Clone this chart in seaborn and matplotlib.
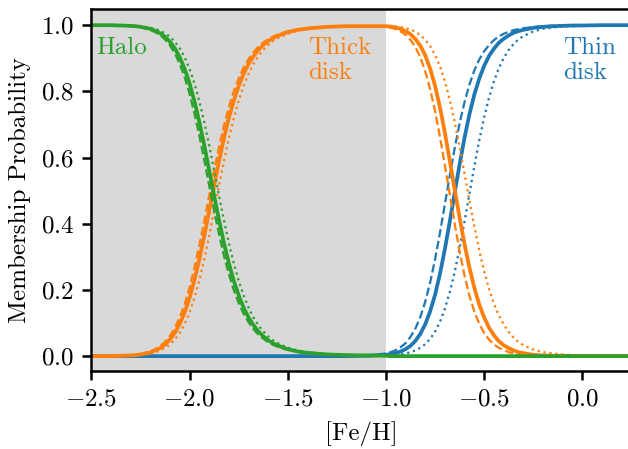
import numpy as np
import pandas as pd
import seaborn as sns
import matplotlib.pyplot as plt

# metallicity grid the membership curves were read at
feh = [-2.5, -2.45, -2.4, -2.35,
       -2.3, -2.275, -2.25, -2.225, -2.2, -2.175, -2.15, -2.125, -2.1, -2.075, -2.05, -2.025,
       -2.0, -1.975, -1.95, -1.925, -1.9, -1.875, -1.85, -1.825, -1.8, -1.775, -1.75, -1.725,
       -1.7, -1.675, -1.65, -1.625, -1.6, -1.575, -1.55, -1.525, -1.5,
       -1.45, -1.4, -1.3, -1.2, -1.1,
       -1.0, -0.975, -0.95, -0.925, -0.9, -0.875, -0.85, -0.825, -0.8, -0.775, -0.75, -0.725,
       -0.7, -0.675, -0.65, -0.625, -0.6, -0.575, -0.55, -0.525, -0.5, -0.475, -0.45, -0.425,
       -0.4, -0.375, -0.35, -0.325, -0.3,
       -0.25, -0.2, -0.15, -0.1, -0.05, 0.0, 0.1, 0.2, 0.3]

halo_solid = [1.000, 1.000, 1.000, 0.999,
              0.998, 0.997, 0.995, 0.992, 0.989, 0.983, 0.976, 0.965, 0.950, 0.930, 0.903, 0.868,
              0.824, 0.770, 0.707, 0.637, 0.561, 0.485, 0.411, 0.342, 0.281, 0.228, 0.184, 0.147,
              0.117, 0.094, 0.075, 0.060, 0.048, 0.039, 0.032, 0.026, 0.021,
              0.014, 0.010, 0.005, 0.003, 0.002,
              0.001, 0.0, 0.0, 0.0, 0.0, 0.0, 0.0, 0.0, 0.0, 0.0, 0.0, 0.0,
              0.0, 0.0, 0.0, 0.0, 0.0, 0.0, 0.0, 0.0, 0.0, 0.0, 0.0, 0.0,
              0.0, 0.0, 0.0, 0.0, 0.0,
              0.0, 0.0, 0.0, 0.0, 0.0, 0.0, 0.0, 0.0, 0.0]

halo_dashed = [1.000, 1.000, 1.000, 0.999,
               0.997, 0.996, 0.994, 0.990, 0.986, 0.979, 0.970, 0.957, 0.939, 0.915, 0.883, 0.843,
               0.793, 0.733, 0.666, 0.592, 0.515, 0.440, 0.369, 0.304, 0.248, 0.200, 0.161, 0.128,
               0.103, 0.082, 0.065, 0.053, 0.042, 0.034, 0.028, 0.023, 0.019,
               0.013, 0.009, 0.005, 0.003, 0.002,
               0.001, 0.0, 0.0, 0.0, 0.0, 0.0, 0.0, 0.0, 0.0, 0.0, 0.0, 0.0,
               0.0, 0.0, 0.0, 0.0, 0.0, 0.0, 0.0, 0.0, 0.0, 0.0, 0.0, 0.0,
               0.0, 0.0, 0.0, 0.0, 0.0,
               0.0, 0.0, 0.0, 0.0, 0.0, 0.0, 0.0, 0.0, 0.0]

halo_dotted = [1.000, 1.000, 1.000, 0.999,
               0.999, 0.998, 0.997, 0.995, 0.992, 0.989, 0.983, 0.976, 0.965, 0.950, 0.930, 0.903,
               0.868, 0.824, 0.770, 0.707, 0.637, 0.561, 0.485, 0.411, 0.342, 0.281, 0.228, 0.184,
               0.147, 0.117, 0.094, 0.075, 0.060, 0.048, 0.039, 0.032, 0.026,
               0.017, 0.012, 0.006, 0.004, 0.002,
               0.002, 0.001, 0.0, 0.0, 0.0, 0.0, 0.0, 0.0, 0.0, 0.0, 0.0, 0.0,
               0.0, 0.0, 0.0, 0.0, 0.0, 0.0, 0.0, 0.0, 0.0, 0.0, 0.0, 0.0,
               0.0, 0.0, 0.0, 0.0, 0.0,
               0.0, 0.0, 0.0, 0.0, 0.0, 0.0, 0.0, 0.0, 0.0]

thick_solid = [0.000, 0.000, 0.000, 0.001,
               0.002, 0.003, 0.005, 0.008, 0.011, 0.017, 0.024, 0.035, 0.050, 0.070, 0.097, 0.132,
               0.176, 0.230, 0.293, 0.363, 0.439, 0.515, 0.589, 0.658, 0.719, 0.772, 0.816, 0.853,
               0.883, 0.906, 0.925, 0.940, 0.952, 0.961, 0.968, 0.974, 0.979,
               0.986, 0.990, 0.995, 0.997, 0.997,
               0.997, 0.996, 0.993, 0.989, 0.982, 0.973, 0.958, 0.938, 0.909, 0.869, 0.817, 0.752,
               0.676, 0.591, 0.504, 0.419, 0.339, 0.268, 0.207, 0.156, 0.117, 0.086, 0.063, 0.045,
               0.033, 0.024, 0.017, 0.012, 0.009,
               0.004, 0.002, 0.001, 0.001, 0.0, 0.0, 0.0, 0.0, 0.0]

thick_dashed = [0.000, 0.000, 0.000, 0.001,
                0.003, 0.004, 0.006, 0.010, 0.014, 0.021, 0.030, 0.043, 0.061, 0.085, 0.117, 0.157,
                0.207, 0.267, 0.334, 0.408, 0.485, 0.560, 0.631, 0.696, 0.752, 0.800, 0.839, 0.872,
                0.897, 0.918, 0.935, 0.947, 0.958, 0.966, 0.972, 0.977, 0.981,
                0.987, 0.991, 0.995, 0.997, 0.997,
                0.995, 0.992, 0.988, 0.981, 0.971, 0.956, 0.934, 0.903, 0.861, 0.807, 0.741, 0.663,
                0.577, 0.489, 0.400, 0.317, 0.244, 0.183, 0.135, 0.098, 0.070, 0.050, 0.035, 0.025,
                0.018, 0.012, 0.009, 0.006, 0.004,
                0.002, 0.001, 0.0, 0.0, 0.0, 0.0, 0.0, 0.0, 0.0]

thick_dotted = [0.000, 0.000, 0.000, 0.001,
                0.001, 0.002, 0.003, 0.005, 0.008, 0.011, 0.017, 0.024, 0.035, 0.050, 0.070, 0.097,
                0.132, 0.176, 0.230, 0.293, 0.363, 0.439, 0.515, 0.589, 0.658, 0.719, 0.772, 0.816,
                0.853, 0.883, 0.906, 0.925, 0.940, 0.952, 0.961, 0.968, 0.974,
                0.983, 0.988, 0.994, 0.996, 0.998,
                0.997, 0.997, 0.996, 0.994, 0.991, 0.987, 0.980, 0.970, 0.956, 0.937, 0.911, 0.876,
                0.831, 0.774, 0.708, 0.633, 0.552, 0.471, 0.393, 0.320, 0.257, 0.203, 0.158, 0.123,
                0.095, 0.073, 0.056, 0.043, 0.033,
                0.020, 0.012, 0.008, 0.005, 0.003, 0.002, 0.001, 0.0, 0.0]

thin_solid = [0.0, 0.0, 0.0, 0.0,
              0.0, 0.0, 0.0, 0.0, 0.0, 0.0, 0.0, 0.0, 0.0, 0.0, 0.0, 0.0,
              0.0, 0.0, 0.0, 0.0, 0.0, 0.0, 0.0, 0.0, 0.0, 0.0, 0.0, 0.0,
              0.0, 0.0, 0.0, 0.0, 0.0, 0.0, 0.0, 0.0, 0.0,
              0.0, 0.0, 0.0, 0.0, 0.001,
              0.004, 0.006, 0.009, 0.014, 0.021, 0.031, 0.046, 0.067, 0.096, 0.135, 0.185, 0.248,
              0.323, 0.406, 0.493, 0.579, 0.659, 0.730, 0.790, 0.838, 0.877, 0.907, 0.929, 0.947,
              0.959, 0.969, 0.977, 0.982, 0.986,
              0.992, 0.995, 0.997, 0.998, 0.999, 0.999, 1.000, 1.000, 1.000]

thin_dashed = [0.0, 0.0, 0.0, 0.0,
               0.0, 0.0, 0.0, 0.0, 0.0, 0.0, 0.0, 0.0, 0.0, 0.0, 0.0, 0.0,
               0.0, 0.0, 0.0, 0.0, 0.0, 0.0, 0.0, 0.0, 0.0, 0.0, 0.0, 0.0,
               0.0, 0.0, 0.0, 0.0, 0.0, 0.0, 0.0, 0.0, 0.0,
               0.0, 0.0, 0.0, 0.0, 0.001,
               0.008, 0.012, 0.018, 0.027, 0.039, 0.058, 0.083, 0.118, 0.164, 0.222, 0.292, 0.372,
               0.458, 0.545, 0.628, 0.703, 0.767, 0.820, 0.863, 0.896, 0.921, 0.940, 0.955, 0.966,
               0.974, 0.980, 0.985, 0.988, 0.991,
               0.994, 0.997, 0.998, 0.999, 0.999, 0.999, 1.000, 1.000, 1.000]

thin_dotted = [0.0, 0.0, 0.0, 0.0,
               0.0, 0.0, 0.0, 0.0, 0.0, 0.0, 0.0, 0.0, 0.0, 0.0, 0.0, 0.0,
               0.0, 0.0, 0.0, 0.0, 0.0, 0.0, 0.0, 0.0, 0.0, 0.0, 0.0, 0.0,
               0.0, 0.0, 0.0, 0.0, 0.0, 0.0, 0.0, 0.0, 0.0,
               0.0, 0.0, 0.0, 0.0, 0.0,
               0.002, 0.002, 0.003, 0.005, 0.008, 0.012, 0.017, 0.025, 0.036, 0.052, 0.074, 0.103,
               0.143, 0.193, 0.254, 0.326, 0.406, 0.490, 0.573, 0.652, 0.721, 0.781, 0.830, 0.870,
               0.901, 0.925, 0.943, 0.957, 0.967,
               0.981, 0.989, 0.993, 0.996, 0.997, 0.998, 0.999, 1.000, 1.000]

xticks = [-2.5, -2.0, -1.5, -1.0, -0.5, 0.0]
yticks = [0.0, 0.2, 0.4, 0.6, 0.8, 1.0]

blue, orange, green = "#1f77b4", "#ff7f0e", "#2ca02c"

sns.set_style("ticks")
plt.rcParams.update({
    "font.family": "serif",
    "font.serif": ["cmr10"],
    "mathtext.fontset": "cm",
    "axes.formatter.use_mathtext": True,
    "font.size": 10,
    "text.color": "black",
    "axes.labelcolor": "black",
    "axes.edgecolor": "black",
    "axes.linewidth": 1.0,
    "xtick.color": "black",
    "ytick.color": "black",
    "xtick.major.width": 1.0,
    "ytick.major.width": 1.0,
    "xtick.major.size": 3.5,
    "ytick.major.size": 3.5,
})

# 628x449 px at 180 dpi; the right spine sits just past the canvas edge
fig = plt.figure(figsize=(628 / 180, 449 / 180), dpi=180)
ax = fig.add_axes([0.1455, 0.1737, 0.8599, 0.8056])

# metal-poor region shading
ax.axvspan(-2.5, -1.0, color="#d9d9d9", lw=0, zorder=0)

groups = [
    (thin_solid, thin_dashed, thin_dotted, blue),
    (thick_solid, thick_dashed, thick_dotted, orange),
    (halo_solid, halo_dashed, halo_dotted, green),
]
for solid, dashed, dotted, color in groups:
    sns.lineplot(x=feh, y=dotted, color=color, lw=0.9, linestyle=":", ax=ax)
    sns.lineplot(x=feh, y=dashed, color=color, lw=0.9, linestyle="--", ax=ax)
    sns.lineplot(x=feh, y=solid, color=color, lw=1.5, ax=ax)

ax.set_xlim(-2.5, 0.25)
ax.set_ylim(-0.045, 1.048)
ax.set_xticks(xticks)
ax.set_yticks(yticks)
ax.set_xlabel("[Fe/H]")
ax.set_ylabel("Membership Probability")

ax.text(-2.473, 0.965, "Halo", color=green, ha="left", va="top")
ax.text(-1.396, 0.965, "Thick\ndisk", color=orange, ha="left", va="top")
ax.text(-0.097, 0.965, "Thin\ndisk", color=blue, ha="left", va="top")

fig.savefig("out.png", dpi=180)
plt.close(fig)
